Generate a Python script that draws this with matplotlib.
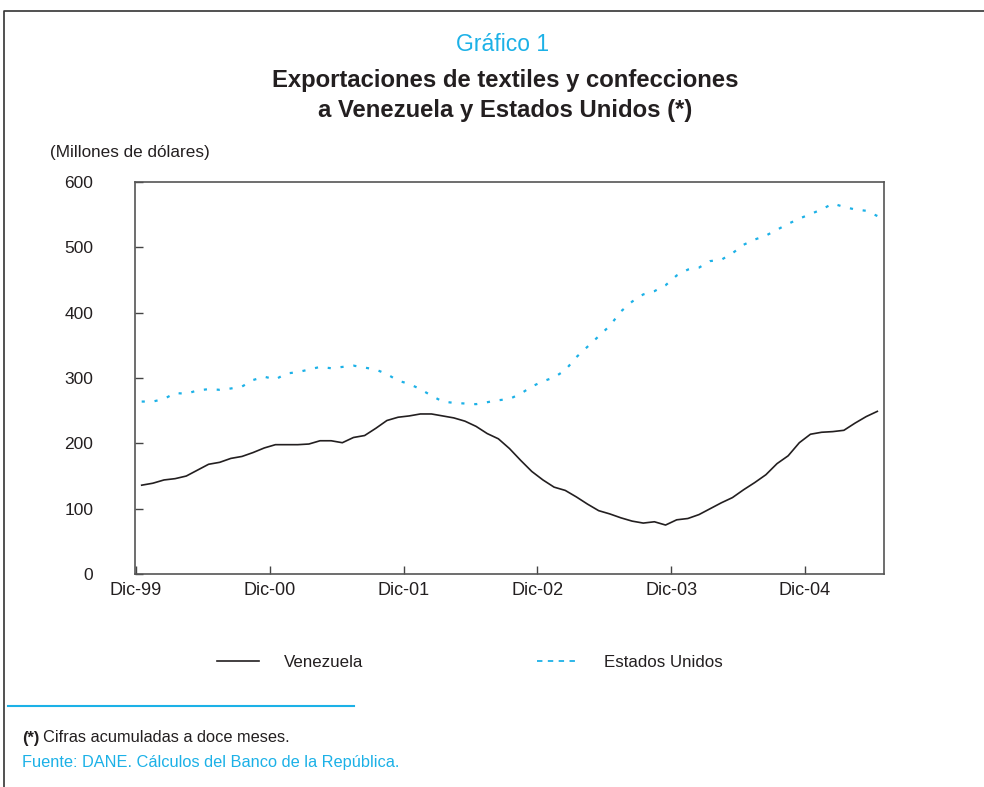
import matplotlib
matplotlib.use('Agg')

import numpy as np
import matplotlib.pyplot as plt
from matplotlib.lines import Line2D

# Monthly 12-month accumulated exports, Dic-99 .. Jun-05 (millions of USD)
venezuela = [136, 139, 144, 146, 150, 159, 168, 171, 177, 180, 186, 193,
             198, 198, 198, 199, 204, 204, 201, 209, 212, 223, 235, 240,
             242, 245, 245, 242, 239, 234, 226, 215, 207, 192, 174, 157,
             144, 133, 128, 118, 107, 97, 92, 86, 81, 78, 80, 75,
             83, 85, 91, 100, 109, 117, 129, 140, 152, 169, 181, 201,
             214, 217, 218, 220, 231, 241, 249]
estados_unidos = [264, 264, 268, 277, 276, 281, 283, 282, 284, 287, 297, 302,
                  298, 307, 309, 313, 317, 315, 317, 319, 316, 313, 306, 296,
                  291, 283, 273, 264, 262, 261, 260, 263, 266, 268, 276, 287,
                  295, 301, 312, 332, 348, 364, 380, 402, 417, 428, 433, 442,
                  457, 466, 469, 479, 481, 491, 504, 512, 518, 527, 536, 544,
                  551, 558, 567, 562, 558, 556, 548]
tick_labels = ['Dic-99', 'Dic-00', 'Dic-01', 'Dic-02', 'Dic-03', 'Dic-04']
series_names = ['Venezuela', 'Estados Unidos']

BLUE = '#1cb1e7'
INK = '#231f20'

plt.rcParams['font.family'] = ['Liberation Sans', 'DejaVu Sans']

fig = plt.figure(figsize=(9.84, 7.87), dpi=100)
ax = fig.add_axes([0.1372, 0.2706, 0.8984 - 0.1372, 0.7687 - 0.2706])

x = np.arange(len(venezuela)) + 0.5
ax.plot(x, venezuela, color=INK, lw=1.2)
ax.plot(x, estados_unidos, color=BLUE, lw=1.6, linestyle=(0, (1.4, 4.4)))

ax.set_xlim(-0.1, 67.1)
ax.set_ylim(0, 600)
ax.set_yticks(range(0, 601, 100))
ax.set_xticks(range(0, 61, 12))
ax.set_xticklabels(tick_labels)
ax.tick_params(axis='y', direction='in', length=6, width=1.0, pad=30,
               labelsize=12.5, colors='#444444', labelcolor=INK)
ax.tick_params(axis='x', direction='in', length=6, width=1.0, pad=6,
               labelsize=13, colors='#444444', labelcolor=INK)
for s in ax.spines.values():
    s.set_color('#555555')
    s.set_linewidth(1.2)

handles = [Line2D([], [], color=INK, lw=1.2),
           Line2D([], [], color=BLUE, lw=1.3, linestyle=(0, (3, 3)))]
ax.legend(handles, series_names, loc='center', bbox_to_anchor=(0.447, -0.225),
          ncol=2, frameon=False, fontsize=12.2, handlelength=2.5,
          handletextpad=1.5, columnspacing=10.2, labelcolor=INK)

# titles
fig.text(0.511, 0.943, 'Gráfico 1', ha='center', va='center',
         fontsize=16.5, color=BLUE)
fig.text(0.513, 0.898, 'Exportaciones de textiles y confecciones',
         ha='center', va='center', fontsize=17.2, fontweight='bold',
         color=INK)
fig.text(0.513, 0.859, 'a Venezuela y Estados Unidos (*)',
         ha='center', va='center', fontsize=17.2, fontweight='bold',
         color=INK)
fig.text(50 / 984, 1 - 152 / 787, '(Millones de dólares)', ha='left',
         va='center', fontsize=12.3, color=INK)

# notes
fig.add_artist(Line2D([8 / 984, 354 / 984], [1 - 706 / 787, 1 - 706 / 787],
                      color=BLUE, lw=1.5))
fig.text(22 / 984, 1 - 738 / 787, '(*)', ha='left', va='center',
         fontsize=11.8, fontweight='bold', color=INK)
fig.text(43 / 984, 1 - 738 / 787, 'Cifras acumuladas a doce meses.',
         ha='left', va='center', fontsize=11.8, color=INK)
fig.text(22 / 984, 1 - 762 / 787, 'Fuente: DANE. Cálculos del Banco de la República.',
         ha='left', va='center', fontsize=11.8, color=BLUE)

# outer frame (top and left edges)
fig.add_artist(Line2D([4 / 984, 4 / 984, 1.0], [0.0, 1 - 11 / 787, 1 - 11 / 787],
                      color='#333333', lw=1.2))

fig.savefig('out.png', dpi=100)
